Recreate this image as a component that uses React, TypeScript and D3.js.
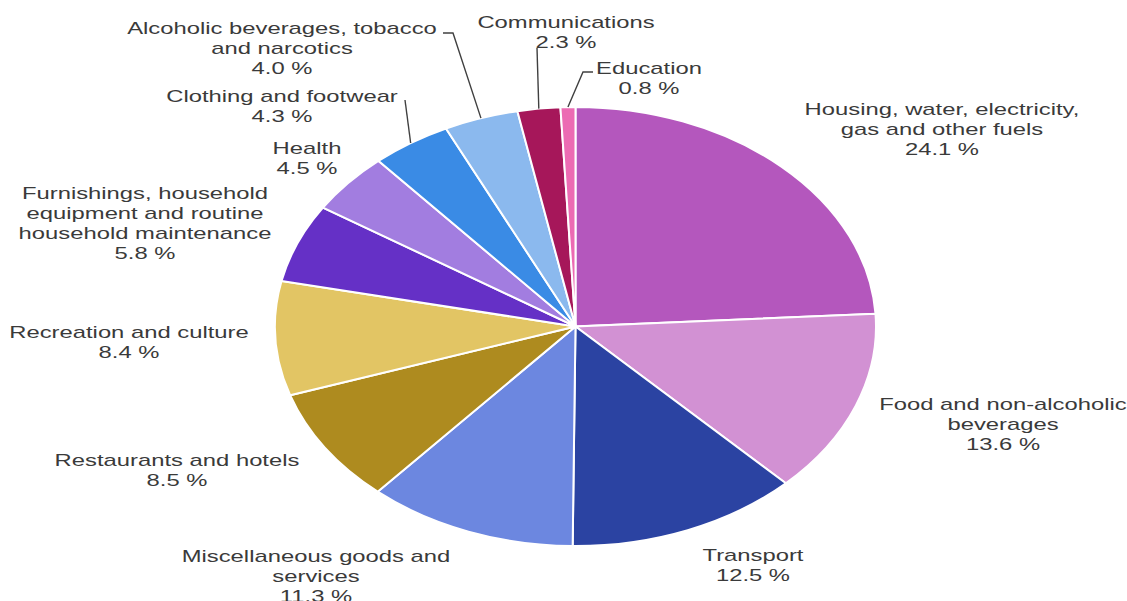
import React from "react";
import * as d3 from "d3";

const categories = [
  "Housing, water, electricity, gas and other fuels",
  "Food and non-alcoholic beverages",
  "Transport",
  "Miscellaneous goods and services",
  "Restaurants and hotels",
  "Recreation and culture",
  "Furnishings, household equipment and routine household maintenance",
  "Health",
  "Clothing and footwear",
  "Alcoholic beverages, tobacco and narcotics",
  "Communications",
  "Education",
];
const values = [24.1, 13.6, 12.5, 11.3, 8.5, 8.4, 5.8, 4.5, 4.3, 4.0, 2.3, 0.8];
const labelLines = [
  ["Housing, water, electricity,", "gas and other fuels"],
  ["Food and non-alcoholic", "beverages"],
  ["Transport"],
  ["Miscellaneous goods and", "services"],
  ["Restaurants and hotels"],
  ["Recreation and culture"],
  ["Furnishings, household", "equipment and routine", "household maintenance"],
  ["Health"],
  ["Clothing and footwear"],
  ["Alcoholic beverages, tobacco", "and narcotics"],
  ["Communications"],
  ["Education"],
];

// styling / layout (kept separate from data)
const colors = [
  "#B457BD", "#D291D3", "#2B43A2", "#6C87E0", "#AE8B1F", "#E2C564",
  "#6530C6", "#A27DE0", "#3A8BE5", "#8BB9EE", "#A6175A", "#EC6BB3",
];
// label centre x, first-line centre y (page pixels)
const labelPos: [number, number][] = [
  [942, 109], [1003, 404], [753, 555], [316, 556], [177, 460], [129, 332],
  [145, 193], [307, 148], [282, 96], [282, 28], [566, 22], [649, 68],
];
// leader lines: start point(s) in page pixels, ends at slice edge
const leaders: { idx: number; pts: [number, number][] }[] = [
  { idx: 8, pts: [[405, 100]] },
  { idx: 9, pts: [[443, 33], [453, 33]] },
  { idx: 10, pts: [[537, 48]] },
  { idx: 11, pts: [[593, 72], [583, 72]] },
];

const W = 1127, H = 601;
const CX = 575.5, CY = 326.5, R = 219.5, SX = 300.5 / 219.5;
const LINE_H = 20;
const FONT = "Arial, 'Liberation Sans', sans-serif";

export default function App() {
  const pie = d3.pie<number>().sort(null).value((d) => d).startAngle(0).endAngle(2 * Math.PI);
  const arcs = pie(values);
  const arc = d3.arc<d3.PieArcDatum<number>>().innerRadius(0).outerRadius(R);
  const tx = (X: number) => (X - CX) / SX;
  const ty = (Y: number) => Y - CY;

  return (
    <svg width={W} height={H} style={{ position: "absolute", left: 0, top: 0, background: "#fff" }}>
      <g transform={`translate(${CX},${CY}) scale(${SX},1)`}>
        {arcs.map((a, i) => (
          <path
            key={categories[i]}
            d={arc(a) || ""}
            fill={colors[i]}
            stroke="#fff"
            strokeWidth={2}
            vectorEffect="non-scaling-stroke"
          />
        ))}
        {leaders.map((l) => {
          const a = arcs[l.idx];
          const mid = (a.startAngle + a.endAngle) / 2;
          const ex = Math.sin(mid) * R;
          const ey = -Math.cos(mid) * R;
          const pts = l.pts.map(([x, y]) => `${tx(x)},${ty(y)}`);
          pts.push(`${ex},${ey}`);
          return (
            <polyline
              key={"l" + l.idx}
              points={pts.join(" ")}
              fill="none"
              stroke="#404040"
              strokeWidth={1.4}
              vectorEffect="non-scaling-stroke"
            />
          );
        })}
        {labelLines.map((lines, i) => {
          const [x, y] = labelPos[i];
          const all = [...lines, `${values[i].toFixed(1)} %`];
          return (
            <text
              key={"t" + i}
              x={tx(x)}
              y={ty(y)}
              textAnchor="middle"
              fontFamily={FONT}
              fontSize={17.4}
              fill="#3a3a3a"
            >
              {all.map((s, j) => (
                <tspan key={j} x={tx(x)} y={ty(y) + j * LINE_H} dy="0.35em">
                  {s}
                </tspan>
              ))}
            </text>
          );
        })}
      </g>
    </svg>
  );
}
